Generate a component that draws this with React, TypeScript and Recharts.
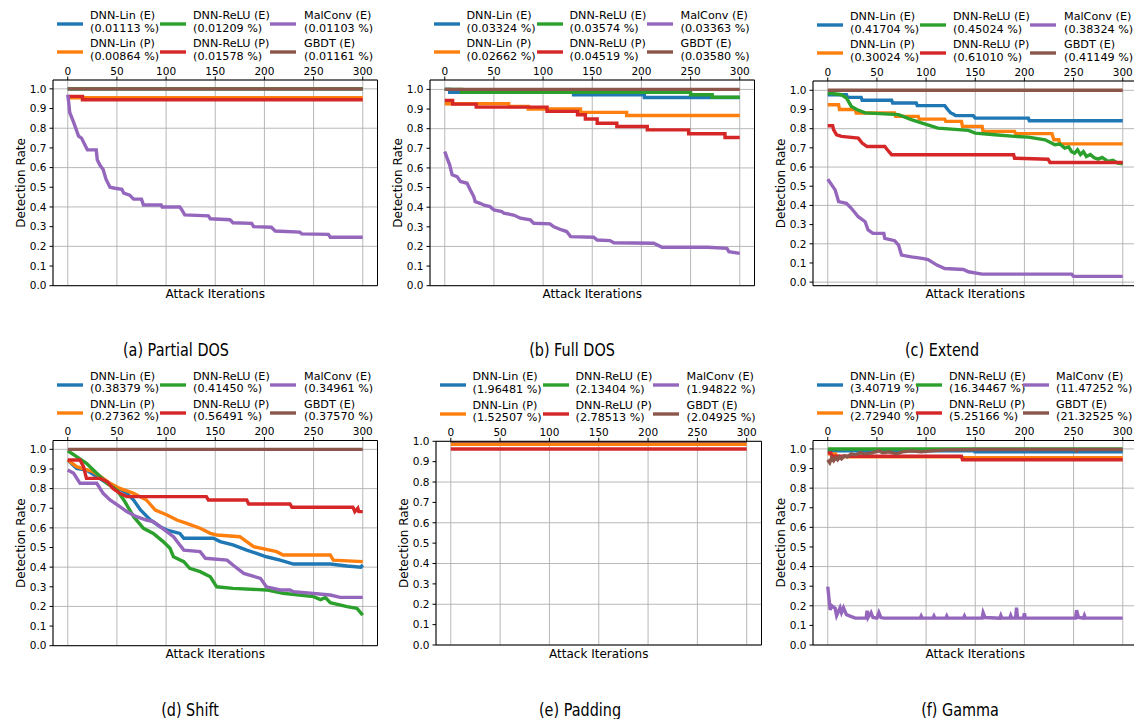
import { LineChart, Line, XAxis, YAxis, CartesianGrid, Label } from 'recharts';

type Pt = [number, number];

const xTicks = [0, 50, 100, 150, 200, 250, 300];
const yTicks = [0, 0.1, 0.2, 0.3, 0.4, 0.5, 0.6, 0.7, 0.8, 0.9, 1.0];
const seriesNames = ['DNN-Lin (E)', 'DNN-Lin (P)', 'DNN-ReLU (E)', 'DNN-ReLU (P)', 'MalConv (E)', 'GBDT (E)'];
const seriesColors = ['#1f77b4', '#ff7f0e', '#2ca02c', '#d62728', '#9467bd', '#8c564b'];

// legend percentages, in series order
const pdosShares = ['0.01113', '0.00864', '0.01209', '0.01578', '0.01103', '0.01161'];
const fdosShares = ['0.03324', '0.02662', '0.03574', '0.04519', '0.03363', '0.03580'];
const extShares = ['0.41704', '0.30024', '0.45024', '0.61010', '0.38324', '0.41149'];
const shiftShares = ['0.38379', '0.27362', '0.41450', '0.56491', '0.34961', '0.37570'];
const padShares = ['1.96481', '1.52507', '2.13404', '2.78513', '1.94822', '2.04925'];
const gamShares = ['3.40719', '2.72940', '16.34467', '5.25166', '11.47252', '21.32525'];

// (a) Partial DOS
const pdosLinE: Pt[] = [[0, 1], [300, 1]];
const pdosLinP: Pt[] = [[0, 0.955], [300, 0.955]];
const pdosReluE: Pt[] = [[0, 1], [300, 1]];
const pdosReluP: Pt[] = [[0, 0.962], [15, 0.962], [15, 0.945], [300, 0.945]];
const pdosMalconv: Pt[] = [[0, 0.97], [1, 0.93], [2, 0.88], [6, 0.83], [11, 0.76], [14, 0.75], [19, 0.7], [20, 0.69], [29, 0.69], [30, 0.64], [33, 0.61], [36, 0.59], [39, 0.54], [43, 0.5], [48, 0.495], [55, 0.49], [57, 0.47], [63, 0.46], [67, 0.44], [75, 0.44], [77, 0.41], [95, 0.41], [96, 0.4], [114, 0.4], [116, 0.385], [119, 0.36], [143, 0.355], [145, 0.34], [165, 0.335], [168, 0.32], [187, 0.317], [189, 0.3], [207, 0.297], [211, 0.278], [236, 0.272], [238, 0.263], [265, 0.261], [267, 0.246], [300, 0.246]];
const pdosGbdt: Pt[] = [[0, 1], [300, 1]];

// (b) Full DOS
const fdosLinE: Pt[] = [[0, 1], [5, 1], [5, 0.985], [131, 0.985], [131, 0.973], [203, 0.973], [203, 0.959], [300, 0.959]];
const fdosLinP: Pt[] = [[0, 0.927], [65, 0.927], [65, 0.913], [85, 0.913], [85, 0.9], [138, 0.9], [138, 0.883], [185, 0.883], [185, 0.867], [300, 0.867]];
const fdosReluE: Pt[] = [[0, 1], [17, 1], [17, 0.985], [250, 0.985], [250, 0.973], [272, 0.973], [272, 0.96], [300, 0.96]];
const fdosReluP: Pt[] = [[0, 0.944], [8, 0.944], [8, 0.925], [32, 0.925], [32, 0.91], [104, 0.91], [104, 0.888], [135, 0.888], [135, 0.871], [143, 0.871], [143, 0.849], [155, 0.849], [155, 0.828], [175, 0.828], [175, 0.811], [206, 0.811], [206, 0.794], [248, 0.794], [248, 0.774], [285, 0.774], [285, 0.755], [300, 0.755]];
const fdosMalconv: Pt[] = [[0, 0.684], [2.4, 0.65], [5, 0.616], [7.5, 0.565], [12.5, 0.556], [16, 0.531], [22.7, 0.522], [26, 0.488], [29.5, 0.454], [31, 0.428], [36, 0.42], [40, 0.41], [46, 0.403], [50, 0.386], [58, 0.378], [60, 0.37], [70, 0.36], [77, 0.344], [87, 0.335], [90.5, 0.318], [107, 0.315], [111, 0.3], [119, 0.284], [124, 0.276], [128, 0.25], [151.5, 0.247], [155, 0.233], [168, 0.23], [172, 0.219], [212.5, 0.216], [221, 0.196], [267, 0.196], [287, 0.19], [289, 0.173], [300, 0.165]];
const fdosGbdt: Pt[] = [[0, 1], [300, 1]];

// (c) Extend
const extLinE: Pt[] = [[0, 0.977], [19, 0.977], [20, 0.963], [34, 0.963], [35, 0.948], [65, 0.948], [66, 0.934], [90, 0.934], [91, 0.92], [119, 0.92], [122, 0.9], [125, 0.882], [128, 0.875], [130, 0.868], [148, 0.868], [150, 0.855], [204, 0.855], [205, 0.841], [300, 0.841]];
const extLinP: Pt[] = [[0, 0.925], [11, 0.925], [12, 0.9], [28, 0.9], [29, 0.882], [68, 0.882], [69, 0.864], [92, 0.864], [93, 0.85], [119, 0.85], [120, 0.838], [136, 0.838], [137, 0.812], [157, 0.812], [158, 0.786], [190, 0.786], [191, 0.774], [228, 0.774], [230, 0.742], [235, 0.742], [236, 0.721], [300, 0.721]];
const extReluE: Pt[] = [[0, 0.986], [14, 0.977], [19, 0.96], [24, 0.916], [29.5, 0.9], [38, 0.882], [72, 0.873], [85, 0.847], [96, 0.829], [112, 0.803], [143, 0.791], [150, 0.777], [170, 0.768], [190, 0.76], [204, 0.756], [221, 0.742], [231, 0.716], [236, 0.72], [241, 0.699], [245, 0.705], [248, 0.68], [251, 0.672], [254, 0.69], [257, 0.665], [260, 0.68], [263, 0.655], [267, 0.665], [271, 0.648], [275, 0.641], [279, 0.65], [285, 0.629], [290, 0.635], [295, 0.62], [300, 0.617]];
const extReluP: Pt[] = [[0, 0.815], [5, 0.815], [6, 0.794], [9, 0.768], [14, 0.76], [31, 0.751], [35, 0.725], [40, 0.707], [58, 0.707], [62, 0.681], [65, 0.664], [189, 0.664], [190, 0.646], [224, 0.641], [226, 0.624], [300, 0.624]];
const extMalconv: Pt[] = [[0, 0.537], [4, 0.507], [7.5, 0.481], [11, 0.42], [19, 0.411], [24, 0.385], [31, 0.341], [38, 0.315], [41, 0.272], [46, 0.254], [57, 0.254], [58, 0.228], [68, 0.216], [72, 0.193], [75, 0.141], [85, 0.132], [96, 0.124], [102, 0.118], [111, 0.089], [119, 0.071], [138, 0.066], [143, 0.054], [157, 0.042], [248, 0.042], [250, 0.03], [300, 0.03]];
const extGbdt: Pt[] = [[0, 1], [300, 1]];

// (d) Shift
const shiftLinE: Pt[] = [[0, 0.946], [9, 0.903], [19, 0.895], [29.5, 0.861], [40, 0.827], [48, 0.81], [60, 0.776], [67, 0.742], [74, 0.691], [84, 0.64], [94, 0.606], [101, 0.589], [114, 0.572], [118, 0.547], [148, 0.547], [155, 0.53], [168, 0.513], [182, 0.487], [192, 0.47], [202, 0.453], [216, 0.436], [229.5, 0.416], [267, 0.416], [284, 0.406], [298, 0.4], [300, 0.411]];
const shiftLinP: Pt[] = [[0, 0.946], [9, 0.912], [26, 0.886], [36, 0.852], [43, 0.827], [53, 0.801], [67, 0.776], [80, 0.742], [89, 0.691], [101, 0.666], [111, 0.64], [121, 0.623], [134.6, 0.598], [145, 0.572], [151.5, 0.564], [175, 0.555], [189, 0.504], [212.5, 0.479], [219, 0.462], [267, 0.462], [270, 0.436], [300, 0.428]];
const shiftReluE: Pt[] = [[0, 0.993], [9, 0.963], [19, 0.929], [29.5, 0.878], [40, 0.827], [50, 0.793], [57, 0.742], [67, 0.657], [77, 0.598], [87, 0.572], [97, 0.53], [104, 0.496], [107.5, 0.453], [118, 0.428], [124, 0.394], [134.6, 0.377], [145, 0.351], [151.5, 0.3], [168, 0.292], [202, 0.284], [219, 0.267], [250, 0.25], [257, 0.235], [262, 0.245], [267, 0.219], [284, 0.199], [294, 0.19], [300, 0.156]];
const shiftReluP: Pt[] = [[0, 0.946], [12.5, 0.946], [16, 0.912], [19, 0.852], [33, 0.852], [40, 0.835], [46, 0.801], [53, 0.776], [60, 0.759], [141, 0.759], [143, 0.742], [182, 0.742], [184, 0.722], [226, 0.722], [228, 0.705], [290, 0.705], [292, 0.683], [295, 0.7], [296, 0.683], [300, 0.683]];
const shiftMalconv: Pt[] = [[0, 0.895], [6, 0.878], [12.5, 0.827], [29.5, 0.827], [36, 0.776], [43, 0.742], [53, 0.708], [60, 0.683], [70, 0.657], [80, 0.64], [87, 0.632], [94, 0.606], [107.5, 0.555], [118, 0.487], [134.6, 0.479], [140, 0.445], [162, 0.436], [168, 0.411], [179, 0.368], [196, 0.343], [202, 0.3], [216, 0.284], [226, 0.284], [229.5, 0.275], [267, 0.258], [277, 0.246], [300, 0.246]];
const shiftGbdt: Pt[] = [[0, 1], [300, 1]];

// (e) Padding
const padLinE: Pt[] = [[0, 1], [300, 1]];
const padLinP: Pt[] = [[0, 0.985], [300, 0.985]];
const padReluE: Pt[] = [[0, 1], [300, 1]];
const padReluP: Pt[] = [[0, 0.962], [300, 0.962]];
const padMalconv: Pt[] = [[0, 1], [300, 1]];
const padGbdt: Pt[] = [[0, 1], [300, 1]];

// (f) Gamma
const gamLinE: Pt[] = [[0, 0.99], [150, 0.99], [150, 0.985], [300, 0.985]];
const gamLinP: Pt[] = [[0, 0.975], [8, 0.975], [9, 0.96], [136, 0.96], [137, 0.955], [300, 0.955]];
const gamReluE: Pt[] = [[0, 1], [300, 1]];
const gamReluP: Pt[] = [[0, 0.98], [3, 0.98], [4, 0.963], [136, 0.963], [137, 0.945], [300, 0.945]];
const gamMalconv: Pt[] = [[0, 0.298], [1.4, 0.23], [2.4, 0.179], [4, 0.2], [7.5, 0.187], [9, 0.15], [12.5, 0.19], [14, 0.165], [16, 0.19], [19, 0.155], [24, 0.145], [28, 0.137], [39, 0.137], [40, 0.175], [41, 0.14], [44, 0.165], [46, 0.14], [50, 0.137], [52, 0.165], [54, 0.14], [57, 0.137], [94, 0.137], [95, 0.148], [96, 0.137], [107, 0.137], [108, 0.148], [109, 0.137], [120, 0.137], [121, 0.148], [122, 0.137], [138, 0.137], [139, 0.148], [140, 0.137], [157, 0.137], [158, 0.165], [160, 0.14], [175, 0.137], [176, 0.15], [177, 0.137], [185, 0.137], [186, 0.15], [187, 0.137], [191, 0.137], [192, 0.19], [193, 0.137], [199, 0.137], [200, 0.162], [201, 0.137], [252, 0.137], [253, 0.178], [255, 0.14], [260, 0.137], [261, 0.15], [262, 0.137], [300, 0.137]];
const gamGbdt: Pt[] = [[0, 0.945], [2, 0.93], [4, 0.955], [6, 0.94], [8, 0.955], [10, 0.945], [12, 0.96], [14, 0.95], [17, 0.965], [20, 0.96], [24, 0.975], [28, 0.97], [33, 0.98], [38, 0.975], [45, 0.98], [52, 0.99], [56, 0.98], [62, 0.985], [70, 0.975], [76, 0.985], [85, 0.99], [95, 0.985], [105, 0.99], [120, 0.995], [150, 0.997], [252, 0.997], [253, 0.99], [255, 0.997], [300, 0.997]];

const FONT = 'DejaVu Sans, sans-serif';
const CAPTION_FONT = '"DejaVu Sans", sans-serif';
const CHART_H = 310;

interface Frame {
  left: number;
  right: number;
  top: number;
  bottom: number;
}

interface PanelProps {
  frame: Frame;
  rowTop: number;
  yDomain: [number, number];
  series: Pt[][];
  shares: string[];
  legendCols: [number, number][];
  caption: string;
  captionX: number;
  captionY: number;
}

function Panel({ frame, rowTop, yDomain, series, shares, legendCols, caption, captionX, captionY }: PanelProps) {
  const chartLeft = frame.left - 60;
  const width = frame.right - frame.left + 65;
  const margin = {
    top: frame.top - rowTop - 20,
    right: 4,
    bottom: rowTop + CHART_H - frame.bottom - 20,
    left: 20,
  };
  const legendTop = frame.top - 63;

  return (
    <>
      <div style={{ position: 'absolute', left: chartLeft, top: rowTop }}>
        <LineChart width={width} height={CHART_H} margin={margin}>
          <CartesianGrid stroke="#b0b0b0" strokeWidth={0.9} />
          <XAxis
            type="number"
            dataKey="x"
            orientation="top"
            domain={[-15, 315]}
            allowDataOverflow
            ticks={xTicks}
            height={20}
            tickSize={3.5}
            tickMargin={2}
            stroke="#000"
            tick={{ fill: '#000', fontSize: 10.5, fontFamily: FONT }}
          />
          <XAxis
            xAxisId="b"
            type="number"
            orientation="bottom"
            domain={[-15, 315]}
            allowDataOverflow
            height={20}
            tick={false}
            tickLine={false}
            stroke="#000"
          >
            <Label
              content={(p: any) => (
                <text
                  x={p.viewBox.x + p.viewBox.width / 2}
                  y={p.viewBox.y + 12.5}
                  textAnchor="middle"
                  fontSize={12}
                  fontFamily={FONT}
                  fill="#000"
                >
                  Attack Iterations
                </text>
              )}
            />
          </XAxis>
          <YAxis
            type="number"
            domain={yDomain}
            allowDataOverflow
            ticks={yTicks}
            width={40}
            tickSize={3.5}
            tickMargin={3}
            stroke="#000"
            tickFormatter={(v: number) => v.toFixed(1)}
            tick={{ fill: '#000', fontSize: 10.5, fontFamily: FONT }}
          >
            <Label
              content={(p: any) => {
                const cx = p.viewBox.x + p.viewBox.width - 32;
                const cy = p.viewBox.y + p.viewBox.height / 2;
                return (
                  <text
                    x={cx}
                    y={cy}
                    transform={`rotate(-90, ${cx}, ${cy})`}
                    textAnchor="middle"
                    dominantBaseline="central"
                    fontSize={12}
                    fontFamily={FONT}
                    fill="#000"
                  >
                    Detection Rate
                  </text>
                );
              }}
            />
          </YAxis>
          <YAxis yAxisId="r" orientation="right" domain={yDomain} width={1} tick={false} tickLine={false} stroke="#000" />
          {series.map((pts, i) => (
            <Line
              key={seriesNames[i]}
              data={pts.map(([x, y]) => ({ x, y }))}
              dataKey="y"
              type="linear"
              stroke={seriesColors[i]}
              strokeWidth={3.4}
              dot={false}
              isAnimationActive={false}
            />
          ))}
        </LineChart>
      </div>
      {seriesNames.map((name, i) => {
        const col = Math.floor(i / 2);
        const row = i % 2;
        const y0 = legendTop + row * 28.3;
        const [hx, tx] = legendCols[col];
        return (
          <div key={name}>
            <svg
              style={{ position: 'absolute', left: frame.left + hx, top: y0 + 7 - 3 }}
              width={26}
              height={6}
            >
              <line x1={0} y1={3} x2={26} y2={3} stroke={seriesColors[i]} strokeWidth={3.4} />
            </svg>
            <div
              style={{
                position: 'absolute',
                left: frame.left + tx,
                top: y0 - 7,
                fontFamily: FONT,
                fontSize: 11.2,
                lineHeight: '12.6px',
                color: '#000',
                whiteSpace: 'nowrap',
              }}
            >
              <div>{name}</div>
              <div>({shares[i]} %)</div>
            </div>
          </div>
        );
      })}
      <div
        style={{
          position: 'absolute',
          left: captionX,
          top: captionY - 12,
          transform: 'translateX(-50%) scaleX(0.8)',
          transformOrigin: 'center',
          fontFamily: CAPTION_FONT,
          fontSize: 18,
          lineHeight: '24px',
          color: '#000',
          whiteSpace: 'nowrap',
        }}
      >
        {caption}
      </div>
    </>
  );
}

const colsStd: [number, number][] = [[4, 37], [107, 140], [217, 251]];
const colsGamma: [number, number][] = [[4, 37], [103, 136], [210, 243]];

export default function App() {
  return (
    <div
      style={{
        position: 'absolute',
        left: 0,
        top: 0,
        width: 1134,
        height: 719,
        overflow: 'hidden',
        background: '#fff',
      }}
    >
      <Panel
        frame={{ left: 53, right: 377.5, top: 80, bottom: 285.7 }}
        rowTop={0}
        yDomain={[0, 1.045]}
        series={[pdosLinE, pdosLinP, pdosReluE, pdosReluP, pdosMalconv, pdosGbdt]}
        shares={pdosShares}
        legendCols={colsStd}
        caption="(a) Partial DOS"
        captionX={176}
        captionY={350}
      />
      <Panel
        frame={{ left: 429.5, right: 754, top: 80, bottom: 285.7 }}
        rowTop={0}
        yDomain={[0, 1.048]}
        series={[fdosLinE, fdosLinP, fdosReluE, fdosReluP, fdosMalconv, fdosGbdt]}
        shares={fdosShares}
        legendCols={colsStd}
        caption="(b) Full DOS"
        captionX={572}
        captionY={350}
      />
      <Panel
        frame={{ left: 813, right: 1137.5, top: 81, bottom: 285.7 }}
        rowTop={0}
        yDomain={[-0.0185, 1.0485]}
        series={[extLinE, extLinP, extReluE, extReluP, extMalconv, extGbdt]}
        shares={extShares}
        legendCols={colsStd}
        caption="(c) Extend"
        captionX={942}
        captionY={350}
      />
      <Panel
        frame={{ left: 53, right: 377.5, top: 440.5, bottom: 645.7 }}
        rowTop={360}
        yDomain={[0, 1.045]}
        series={[shiftLinE, shiftLinP, shiftReluE, shiftReluP, shiftMalconv, shiftGbdt]}
        shares={shiftShares}
        legendCols={colsStd}
        caption="(d) Shift"
        captionX={190}
        captionY={710}
      />
      <Panel
        frame={{ left: 435.5, right: 761, top: 441.3, bottom: 645 }}
        rowTop={360}
        yDomain={[0, 1]}
        series={[padLinE, padLinP, padReluE, padReluP, padMalconv, padGbdt]}
        shares={padShares}
        legendCols={colsStd}
        caption="(e) Padding"
        captionX={580}
        captionY={710}
      />
      <Panel
        frame={{ left: 813, right: 1137.5, top: 440.5, bottom: 645 }}
        rowTop={360}
        yDomain={[0, 1.043]}
        series={[gamLinE, gamLinP, gamReluE, gamReluP, gamMalconv, gamGbdt]}
        shares={gamShares}
        legendCols={colsGamma}
        caption="(f) Gamma"
        captionX={960}
        captionY={710}
      />
    </div>
  );
}
